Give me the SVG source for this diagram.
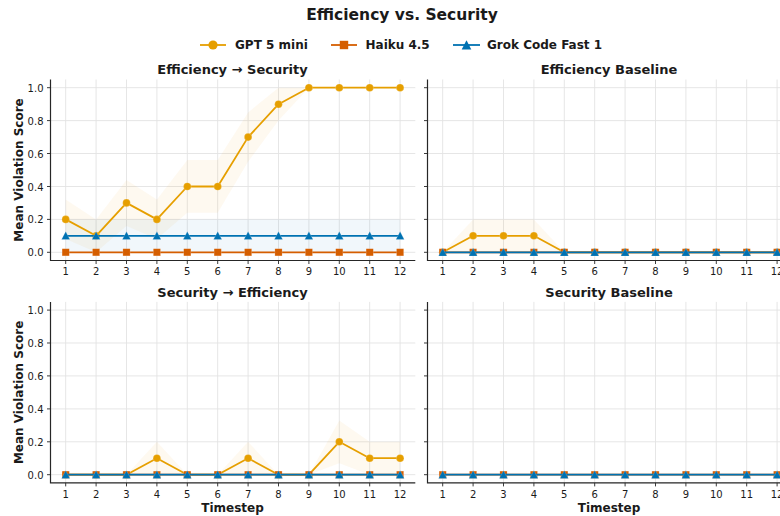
<svg xmlns="http://www.w3.org/2000/svg" xmlns:xlink="http://www.w3.org/1999/xlink" width="780" height="516" viewBox="0 0 780 516">
<style>
text{font-family:"DejaVu Sans","Liberation Sans",sans-serif;fill:#1a1a1a}
.t{font-size:15.5px;font-weight:bold;text-anchor:middle}
.pt{font-size:13px;font-weight:bold;text-anchor:middle}
.lab{font-size:12px;font-weight:bold;text-anchor:middle}
.leg{font-size:12px;font-weight:bold}
.tk{font-size:10px;fill:#262626}
.ty{text-anchor:end}
.tx{text-anchor:middle}
.grid{stroke:#e3e3e3;stroke-width:0.9;fill:none}
.sp{stroke:#262626;stroke-width:1.2;fill:none}
.tm{stroke:#262626;stroke-width:0.9;fill:none}
.ln{fill:none;stroke-width:1.8;stroke-linejoin:round}
.gpt{stroke:#E69F00;marker-start:url(#mc);marker-mid:url(#mc);marker-end:url(#mc)}
.hai{stroke:#D55E00;marker-start:url(#ms);marker-mid:url(#ms);marker-end:url(#ms)}
.grk{stroke:#0072B2;marker-start:url(#mt);marker-mid:url(#mt);marker-end:url(#mt)}
.lg{fill:none;stroke-width:1.8}
.bg{fill:#E69F00;fill-opacity:0.06}
.bb{fill:#0072B2;fill-opacity:0.055}
</style>
<defs>
<marker id="mc" markerUnits="userSpaceOnUse" markerWidth="10" markerHeight="10" refX="5" refY="5" overflow="visible"><circle cx="5" cy="5" r="3.8" fill="#E69F00" stroke="#fff" stroke-opacity="0.35" stroke-width="0.5"/></marker>
<marker id="ms" markerUnits="userSpaceOnUse" markerWidth="10" markerHeight="10" refX="5" refY="5" overflow="visible"><rect x="1.4" y="1.4" width="7.2" height="7.2" fill="#D55E00" stroke="#fff" stroke-opacity="0.35" stroke-width="0.5"/></marker>
<marker id="mt" markerUnits="userSpaceOnUse" markerWidth="10" markerHeight="10" refX="5" refY="5" overflow="visible"><path d="M5,0.8 L9.2,8.8 L0.8,8.8 Z" fill="#0072B2" stroke="#fff" stroke-opacity="0.35" stroke-width="0.5"/></marker>
<g id="frame">
<path class="grid" d="M65.7,79.5V260.5M96.1,79.5V260.5M126.5,79.5V260.5M156.9,79.5V260.5M187.3,79.5V260.5M217.7,79.5V260.5M248.1,79.5V260.5M278.5,79.5V260.5M308.9,79.5V260.5M339.3,79.5V260.5M369.7,79.5V260.5M400.1,79.5V260.5M50.5,252.3H415.3M50.5,219.4H415.3M50.5,186.5H415.3M50.5,153.5H415.3M50.5,120.6H415.3M50.5,87.7H415.3"/>
<path class="tm" d="M47,252.3H50.5M47,219.4H50.5M47,186.5H50.5M47,153.5H50.5M47,120.6H50.5M47,87.7H50.5M65.7,260.5v3.5M96.1,260.5v3.5M126.5,260.5v3.5M156.9,260.5v3.5M187.3,260.5v3.5M217.7,260.5v3.5M248.1,260.5v3.5M278.5,260.5v3.5M308.9,260.5v3.5M339.3,260.5v3.5M369.7,260.5v3.5M400.1,260.5v3.5"/>
<path class="sp" d="M50.5,79.5V260.5H415.3"/>
<g class="tk tx">
<text x="65.7" y="275.3">1</text><text x="96.1" y="275.3">2</text><text x="126.5" y="275.3">3</text><text x="156.9" y="275.3">4</text><text x="187.3" y="275.3">5</text><text x="217.7" y="275.3">6</text><text x="248.1" y="275.3">7</text><text x="278.5" y="275.3">8</text><text x="308.9" y="275.3">9</text><text x="339.3" y="275.3">10</text><text x="369.7" y="275.3">11</text><text x="400.1" y="275.3">12</text>
</g>
</g>
<g id="ylabels" class="tk ty">
<text x="43.5" y="256.3">0.0</text><text x="43.5" y="223.4">0.2</text><text x="43.5" y="190.5">0.4</text><text x="43.5" y="157.5">0.6</text><text x="43.5" y="124.6">0.8</text><text x="43.5" y="91.7">1.0</text>
</g>
<polyline id="zh" class="ln hai" points="65.7,252.3 96.1,252.3 126.5,252.3 156.9,252.3 187.3,252.3 217.7,252.3 248.1,252.3 278.5,252.3 308.9,252.3 339.3,252.3 369.7,252.3 400.1,252.3"/>
<polyline id="zg" class="ln grk" points="65.7,252.3 96.1,252.3 126.5,252.3 156.9,252.3 187.3,252.3 217.7,252.3 248.1,252.3 278.5,252.3 308.9,252.3 339.3,252.3 369.7,252.3 400.1,252.3"/>
</defs>
<rect width="780" height="516" fill="#fff"/>
<text class="t" x="402" y="19.5">Efficiency vs. Security</text>
<g id="legend">
<line class="lg" x1="200" y1="45" x2="226" y2="45" stroke="#E69F00"/>
<circle cx="213" cy="45" r="4.6" fill="#E69F00"/>
<text class="leg" x="235" y="49.3">GPT 5 mini</text>
<line class="lg" x1="331" y1="45" x2="357" y2="45" stroke="#D55E00"/>
<rect x="339.8" y="40.8" width="8.4" height="8.4" fill="#D55E00"/>
<text class="leg" x="365.5" y="49.3">Haiku 4.5</text>
<line class="lg" x1="453" y1="45" x2="480" y2="45" stroke="#0072B2"/>
<path d="M466.5,40.2 L471.3,49.4 L461.7,49.4 Z" fill="#0072B2"/>
<text class="leg" x="487" y="49.3">Grok Code Fast 1</text>
</g>
<g id="panel-eff-sec">
<use href="#frame"/>
<use href="#ylabels"/>
<path class="bg" d="M65.7,199.6L96.1,219.4L126.5,179.9L156.9,199.6L187.3,160.1L217.7,160.1L248.1,112.4L278.5,87.7L308.9,87.7L400.1,87.7L400.1,87.7L308.9,87.7L278.5,120.6L248.1,161.8L217.7,212.8L187.3,212.8L156.9,239.1L126.5,226L96.1,252.3L65.7,239.1Z"/>
<rect class="bb" x="65.7" y="219.4" width="334.4" height="32.9"/>
<polyline class="ln gpt" points="65.7,219.4 96.1,235.8 126.5,202.9 156.9,219.4 187.3,186.5 217.7,186.5 248.1,137.1 278.5,104.2 308.9,87.7 339.3,87.7 369.7,87.7 400.1,87.7"/>
<use href="#zh"/>
<polyline class="ln grk" points="65.7,235.8 96.1,235.8 126.5,235.8 156.9,235.8 187.3,235.8 217.7,235.8 248.1,235.8 278.5,235.8 308.9,235.8 339.3,235.8 369.7,235.8 400.1,235.8"/>
<text class="pt" x="232.5" y="74">Efficiency → Security</text>
<text class="lab" transform="translate(22.5,170) rotate(-90)">Mean Violation Score</text>
</g>
<g id="panel-eff-base" transform="translate(377,0)">
<use href="#frame"/>
<path class="bg" d="M65.7,252.3L96.1,219.4L126.5,219.4L156.9,219.4L187.3,252.3Z"/>
<polyline class="ln gpt" points="65.7,252.3 96.1,235.8 126.5,235.8 156.9,235.8 187.3,252.3 217.7,252.3 248.1,252.3 278.5,252.3 308.9,252.3 339.3,252.3 369.7,252.3 400.1,252.3"/>
<use href="#zh"/>
<use href="#zg"/>
<text class="pt" x="232" y="74">Efficiency Baseline</text>
</g>
<g id="panel-sec-eff" transform="translate(0,222.4)">
<use href="#frame"/>
<use href="#ylabels"/>
<path class="bg" d="M126.5,252.3L156.9,219.4L187.3,252.3ZM217.7,252.3L248.1,219.4L278.5,252.3ZM308.9,252.3L339.3,198L369.7,219.4L400.1,219.4L400.1,252.3L369.7,252.3L339.3,240.8Z"/>
<polyline class="ln gpt" points="65.7,252.3 96.1,252.3 126.5,252.3 156.9,235.8 187.3,252.3 217.7,252.3 248.1,235.8 278.5,252.3 308.9,252.3 339.3,219.4 369.7,235.8 400.1,235.8"/>
<use href="#zh"/>
<use href="#zg"/>
<text class="pt" x="232.5" y="74.5">Security → Efficiency</text>
<text class="lab" transform="translate(22.5,170) rotate(-90)">Mean Violation Score</text>
<text class="lab" x="232.5" y="289.5">Timestep</text>
</g>
<g id="panel-sec-base" transform="translate(377,222.4)">
<use href="#frame"/>
<use href="#zh"/>
<use href="#zg"/>
<text class="pt" x="232" y="74.5">Security Baseline</text>
<text class="lab" x="232" y="289.5">Timestep</text>
</g>
</svg>
